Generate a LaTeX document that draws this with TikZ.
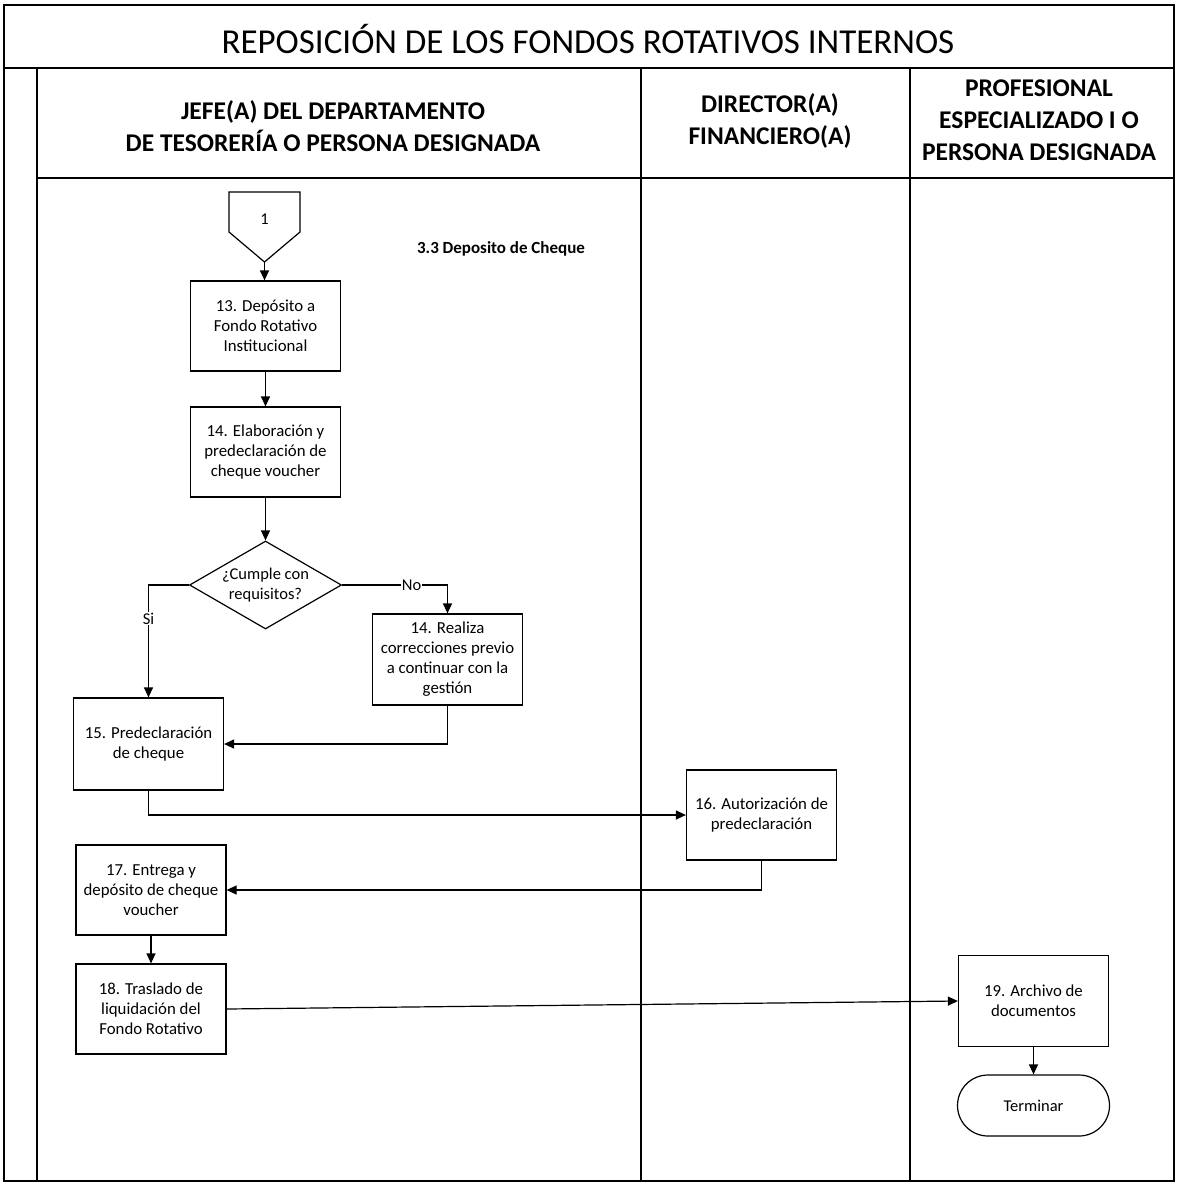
\documentclass[tikz,border=0pt]{standalone}
\usepackage{fontspec}
\setmainfont{Carlito}
\usetikzlibrary{shapes.geometric,shapes.misc,arrows.meta}
\begin{document}
\begin{tikzpicture}[x=1pt,y=-1pt,
  frame/.style={line width=1.6pt},
  lane/.style={line width=1.3pt},
  stepbox/.style={draw,line width=1.2pt,minimum width=150pt,minimum height=90pt,inner sep=2pt,align=center,font=\fontsize{16.8}{20}\selectfont},
  arr/.style={line width=1.2pt,-{Triangle[length=10pt,width=9pt]}},
  lbl/.style={fill=white,inner sep=1pt,font=\fontsize{16.5}{20}\selectfont},
  hdr/.style={align=center,font=\bfseries\fontsize{25.5}{32}\selectfont}
]
\useasboundingbox (0,0) rectangle (1177,1186);
% frame and lanes
\draw[frame] (4,5) rectangle (1174,1181);
\draw[frame] (4,68) -- (1174,68);
\draw[lane] (37,68) -- (37,1181);
\draw[lane] (641,68) -- (641,1181);
\draw[lane] (910,68) -- (910,1181);
\draw[frame] (37,178) -- (1174,178);
% title and headers
\node[font=\fontsize{35}{40}\selectfont] (title) at (588,39) {REPOSICIÓN DE LOS FONDOS ROTATIVOS INTERNOS};
\node[hdr] (h1) at (333,126) {JEFE(A) DEL DEPARTAMENTO\\DE TESORERÍA O PERSONA DESIGNADA};
\node[hdr] (h2) at (770,121) {DIRECTOR(A)\\FINANCIERO(A)};
\node[hdr] (h3) at (1039,120) {PROFESIONAL\\ESPECIALIZADO I O\\PERSONA DESIGNADA};
\node[font=\bfseries\fontsize{17}{20}\selectfont] (sub) at (501,249) {3.3 Deposito de Cheque};
% off-page connector
\node[font=\fontsize{16.5}{18}\selectfont] (c1) at (264.5,219) {1};
\draw[line width=1.2pt] (229,192) -- (300,192) -- (300,232) -- (264.5,262) -- (229,232) -- cycle;
\coordinate (c1tip) at (264.5,262);
% nodes
\node[stepbox] (b13) at (265.5,326) {13. Depósito a\\Fondo Rotativo\\Institucional};
\node[stepbox] (b14) at (265.5,452) {14. Elaboración y\\predeclaración de\\cheque voucher};
\node[draw,line width=1.2pt,diamond,shape aspect=1.73,minimum width=152pt,minimum height=88pt,inner sep=0pt,align=center,font=\fontsize{16.5}{20}\selectfont] (dec) at (265.5,585) {¿Cumple con\\requisitos?};
\node[stepbox,minimum height=91pt] (b14b) at (447.5,659.5) {14. Realiza\\correcciones previo\\a continuar con la\\gestión};
\node[stepbox,minimum height=92pt] (b15) at (148.5,744) {15. Predeclaración\\de cheque};
\node[stepbox] (b16) at (761.5,815) {16. Autorización de\\predeclaración};
\node[stepbox] (b17) at (151,890) {17. Entrega y\\depósito de cheque\\voucher};
\node[stepbox] (b18) at (151,1009) {18. Traslado de\\liquidación del\\Fondo Rotativo};
\node[stepbox,minimum height=91pt] (b19) at (1033.5,1001) {19. Archivo de\\documentos};
\node[draw,line width=1.2pt,rounded rectangle,minimum width=152pt,minimum height=61pt,inner sep=0pt,font=\fontsize{16.5}{20}\selectfont] (term) at (1033.5,1105.5) {Terminar};
% connectors
\draw[arr] (c1tip) -- (c1tip |- b13.north);
\draw[arr] (b13.south) -- (b14.north);
\draw[arr] (b14.south) -- (dec.north);
\draw[arr] (dec.east) -| node[lbl,pos=0.33] {No} (b14b.north);
\draw[arr] (dec.west) -| node[lbl,pos=0.65] {Si} (b15.north);
\draw[arr] (b14b.south) |- (b15.east);
\draw[arr] (b15.south) |- (b16.west);
\draw[arr] (b16.south) |- (b17.east);
\draw[arr] (b17.south) -- (b18.north);
\draw[arr] (b18.east) -- (b19.west);
\draw[arr] (b19.south) -- (term.north);
\end{tikzpicture}
\end{document}
